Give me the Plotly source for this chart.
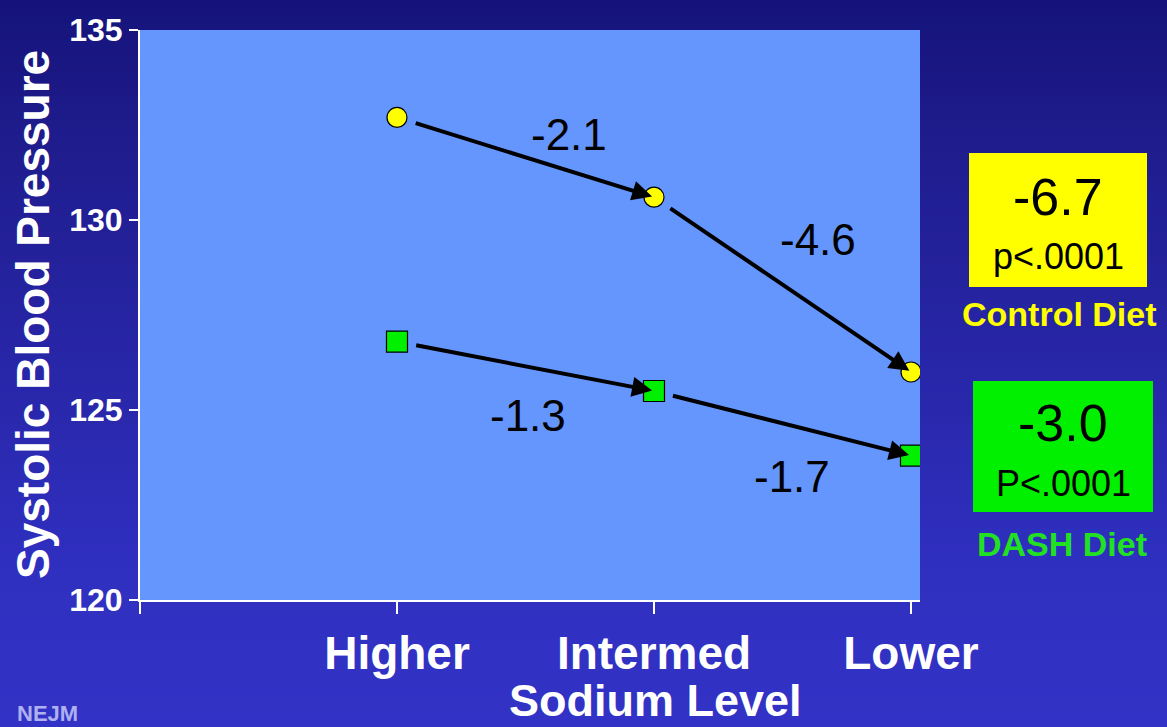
import numpy as np
import plotly.graph_objects as go

# ---------------- data ----------------
categories = ["Higher", "Intermed", "Lower"]
control_sbp = [132.7, 130.6, 126.0]
dash_sbp = [126.8, 125.5, 123.8]
control_changes = ["-2.1", "-4.6"]
dash_changes = ["-1.3", "-1.7"]
control_total = "-6.7"
control_p = "p<.0001"
dash_total = "-3.0"
dash_p = "P<.0001"
y_ticks = [120, 125, 130, 135]

# ---------------- geometry helpers ----------------
W, H = 1167, 727
L, R, T, B = 140, 247, 30, 127
PW, PH = W - L - R, H - T - B


def px(x):
    return (x - L) / PW


def py(y):
    return (T + PH - y) / PH


xs = list(range(len(categories)))

fig = go.Figure()

fig.add_trace(go.Scatter(
    x=xs, y=control_sbp, mode="markers", name="Control Diet",
    marker=dict(symbol="circle", size=20, color="#FFFF00",
                line=dict(color="black", width=1.2)),
    hoverinfo="skip", showlegend=False))
fig.add_trace(go.Scatter(
    x=xs, y=dash_sbp, mode="markers", name="DASH Diet",
    marker=dict(symbol="square", size=21, color="#00F000",
                line=dict(color="black", width=1.2)),
    hoverinfo="skip", showlegend=False))

shapes = []
# background gradient
stops_y = [0, 140, 560, H]
stops_c = np.array([[21, 19, 122], [31, 28, 141], [47, 47, 191], [50, 50, 198]])
step = 8
for y0 in range(0, H, step):
    ym = y0 + step / 2
    c = [int(round(np.interp(ym, stops_y, stops_c[:, k]))) for k in range(3)]
    shapes.append(dict(type="rect", xref="paper", yref="paper",
                       x0=px(0), x1=px(W), y0=py(y0), y1=py(y0 + step + 1),
                       fillcolor=f"rgb({c[0]},{c[1]},{c[2]})",
                       line=dict(width=0), layer="below"))
# plot area
shapes.append(dict(type="rect", xref="paper", yref="paper", x0=0, x1=1, y0=0, y1=1,
                   fillcolor="#6496FE", line=dict(width=0), layer="below"))
# summary boxes
shapes.append(dict(type="rect", xref="paper", yref="paper",
                   x0=px(969), x1=px(1147), y0=py(287), y1=py(153),
                   fillcolor="#FFFF00", line=dict(width=0), layer="below"))
shapes.append(dict(type="rect", xref="paper", yref="paper",
                   x0=px(973), x1=px(1153), y0=py(512), y1=py(381),
                   fillcolor="#00F000", line=dict(width=0), layer="below"))

annotations = []
# arrows between consecutive points
for series in (control_sbp, dash_sbp):
    for i in range(len(series) - 1):
        annotations.append(dict(
            x=xs[i + 1], y=series[i + 1], ax=xs[i], ay=series[i],
            xref="x", yref="y", axref="x", ayref="y", text="",
            showarrow=True, arrowhead=2, arrowsize=1.0, arrowwidth=4,
            arrowcolor="black", standoff=2, startstandoff=18))

label_font = dict(family="Liberation Sans, Arial", size=44, color="black")
ctrl_shifts = [(43, 23), (35, 45)]
dash_shifts = [(2, -49), (9, -53)]
for series, labels, shifts in ((control_sbp, control_changes, ctrl_shifts),
                               (dash_sbp, dash_changes, dash_shifts)):
    for i, lab in enumerate(labels):
        annotations.append(dict(
            x=(xs[i] + xs[i + 1]) / 2, y=(series[i] + series[i + 1]) / 2,
            xref="x", yref="y", text=lab, showarrow=False, font=label_font,
            xanchor="center", yanchor="middle",
            xshift=shifts[i][0], yshift=shifts[i][1]))

box_font = "Liberation Sans, Arial"
text_items = [
    # (x, y, text, size, color, angle)
    (33, 315, "<b>Systolic Blood Pressure</b>", 46, "white", -90),
    (655, 701, "<b>Sodium Level</b>", 45, "white", 0),
    (1058, 197, control_total, 52, "black", 0),
    (1058, 256, control_p, 36, "black", 0),
    (1059, 314, "<b>Control Diet</b>", 34, "#FFFF00", 0),
    (1063, 423, dash_total, 52, "black", 0),
    (1063, 483, dash_p, 36, "black", 0),
    (1062, 544, "<b>DASH Diet</b>", 34, "#22E022", 0),
    (47, 713, "<b>NEJM</b>", 22, "#AEB0F0", 0),
]
for x, y, t, s, col, ang in text_items:
    annotations.append(dict(x=px(x), y=py(y), xref="paper", yref="paper", text=t,
                            showarrow=False, xanchor="center", yanchor="middle",
                            textangle=ang,
                            font=dict(family=box_font, size=s, color=col)))

fig.update_layout(
    width=W, height=H,
    margin=dict(l=L, r=R, t=T, b=B, pad=0),
    paper_bgcolor="rgb(21,19,122)",
    plot_bgcolor="rgba(0,0,0,0)",
    shapes=shapes,
    annotations=annotations,
    showlegend=False,
    xaxis=dict(range=[-1, 2.035], tickvals=[-1] + xs, ticktext=[""] + categories,
               showgrid=False, zeroline=False, showline=True, linecolor="white",
               linewidth=2, ticks="outside", ticklen=12, tickwidth=2, tickcolor="white",
               ticklabelstandoff=0,
               tickfont=dict(family="Liberation Sans, Arial", size=46, color="white",
                             weight="bold")),
    yaxis=dict(range=[120, 135], tickvals=y_ticks, showgrid=False, zeroline=False,
               showline=True, linecolor="white", linewidth=2, ticks="outside",
               ticklen=9, tickwidth=2, tickcolor="white",
               tickfont=dict(family="Liberation Sans, Arial",
                             size=32, color="white", weight="bold")),
)

fig.write_html("out.html", config={"displayModeBar": False},
               post_script="document.body.style.margin='0';document.body.style.padding='0';")
